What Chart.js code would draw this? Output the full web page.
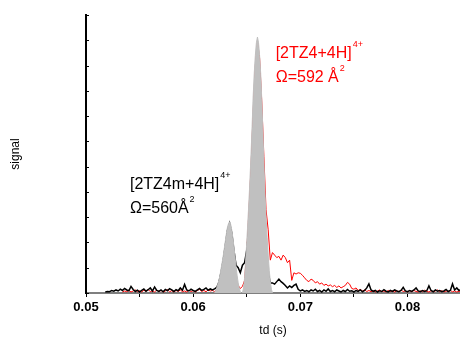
<!DOCTYPE html>
<html>
<head>
<meta charset="utf-8">
<script src="https://cdn.jsdelivr.net/npm/chart.js@4/dist/chart.umd.min.js"></script>
<style>
  html, body { margin: 0; padding: 0; background: #fff; }
  #wrap { width: 460px; height: 338px; position: relative; }
</style>
</head>
<body>
<div id="wrap"><canvas id="c"></canvas></div>
<script>
// Drift-time traces, sampled every 0.2 ms
const tdStep = 0.0002;
const blackStart = 0.0518;
const redStart = 0.0534;

// [2TZ4m+4H]4+ trace (black)
const blackSignal = [
  0.004, 0.006, 0.005, 0.010, 0.007, 0.012, 0.008, 0.015, 0.010, 0.018,
  0.012, 0.009, 0.026, 0.014, 0.006, 0.011, 0.004, 0.010, 0.016, 0.007,
  0.013, 0.020, 0.008, 0.024, 0.010, 0.006, 0.012, 0.005, 0.014, 0.009,
  0.017, 0.012, 0.006, 0.013, 0.009, 0.020, 0.011, 0.034, 0.012, 0.008,
  0.015, 0.010, 0.006, 0.012, 0.018, 0.010, 0.014, 0.020, 0.011, 0.016,
  0.012, 0.016, 0.022, 0.042, 0.080, 0.128, 0.188, 0.248, 0.276, 0.238,
  0.170, 0.110, 0.100, 0.080, 0.110, 0.120, 0.170, 0.250, 0.320, 0.360,
  0.380, 0.380, 0.350, 0.300, 0.220, 0.140, 0.080, 0.040, 0.040, 0.035,
  0.045, 0.055, 0.045, 0.038, 0.030, 0.020, 0.028, 0.022, 0.030, 0.035,
  0.015, 0.008, 0.012, 0.006, 0.010, 0.005, 0.012, 0.008, 0.015, 0.006,
  0.010, 0.004, 0.012, 0.007, 0.016, 0.006, 0.010, 0.005, 0.012, 0.008,
  0.004, 0.010, 0.006, 0.014, 0.007, 0.009, 0.004, 0.010, 0.006, 0.012,
  0.005, 0.010, 0.020, 0.036, 0.012, 0.006, 0.010, 0.004, 0.009, 0.006,
  0.013, 0.007, 0.004, 0.010, 0.006, 0.012, 0.008, 0.005, 0.010, 0.022,
  0.008, 0.005, 0.010, 0.006, 0.012, 0.020, 0.008, 0.005, 0.010, 0.006,
  0.009, 0.028, 0.010, 0.005, 0.012, 0.007, 0.010, 0.005, 0.008, 0.014,
  0.006, 0.010, 0.036, 0.012, 0.020, 0.010, 0.014
];

// [2TZ4+4H]4+ trace (red)
const redSignal = [
  0.004, 0.008, 0.005, 0.010, 0.004, 0.008, 0.012, 0.005, 0.009, 0.004,
  0.011, 0.006, 0.014, 0.005, 0.009, 0.004, 0.012, 0.006, 0.010, 0.004,
  0.008, 0.013, 0.005, 0.009, 0.004, 0.010, 0.006, 0.012, 0.005, 0.008,
  0.004, 0.011, 0.006, 0.009, 0.004, 0.010, 0.014, 0.006, 0.010, 0.005,
  0.012, 0.008, 0.010, 0.006, 0.012, 0.008, 0.014, 0.010, 0.016, 0.012,
  0.015, 0.010, 0.018, 0.022, 0.030, 0.018, 0.026, 0.050, 0.165, 0.320,
  0.500, 0.720, 0.900, 0.995, 0.930, 0.760, 0.540, 0.330, 0.250, 0.130,
  0.160, 0.150, 0.140, 0.145, 0.130, 0.150, 0.140, 0.120, 0.130, 0.050,
  0.080, 0.075, 0.080, 0.078, 0.070, 0.060, 0.050, 0.045, 0.055, 0.050,
  0.040, 0.045, 0.035, 0.040, 0.030, 0.035, 0.028, 0.032, 0.025, 0.030,
  0.022, 0.028, 0.020, 0.025, 0.030, 0.042, 0.035, 0.018, 0.015, 0.020,
  0.010, 0.014, 0.008, 0.012, 0.006, 0.010, 0.005, 0.009, 0.004, 0.008,
  0.012, 0.005, 0.008, 0.004, 0.010, 0.006, 0.008, 0.004, 0.009, 0.005,
  0.012, 0.006, 0.008, 0.004, 0.009, 0.005, 0.010, 0.006, 0.004, 0.008,
  0.005, 0.011, 0.006, 0.004, 0.009, 0.005, 0.008, 0.012, 0.005, 0.009,
  0.004, 0.008, 0.006, 0.010, 0.005, 0.008, 0.004, 0.007, 0.005
];

// Fitted peak profiles (grey)
const peak1Td = [
  0.0620, 0.0621, 0.0622, 0.0623, 0.0624, 0.0625, 0.0626, 0.0627, 0.0628, 0.0629,
  0.0630, 0.0631, 0.0632, 0.0633, 0.0634, 0.0635, 0.0636, 0.0637, 0.0638, 0.0639,
  0.0640, 0.0641, 0.0642, 0.0643, 0.0644, 0.0645
];
const peak1Signal = [
  0.000, 0.010, 0.020, 0.035, 0.050, 0.070, 0.095, 0.120, 0.145, 0.175,
  0.205, 0.235, 0.260, 0.275, 0.282, 0.272, 0.250, 0.220, 0.185, 0.145,
  0.105, 0.070, 0.040, 0.020, 0.005, 0.000
];
const peak2Td = [
  0.0646, 0.0647, 0.0648, 0.0649, 0.0650, 0.0651, 0.0652, 0.0653, 0.0654, 0.0655,
  0.0656, 0.0657, 0.0658, 0.0659, 0.0660, 0.0661, 0.0662, 0.0663, 0.0664, 0.0665,
  0.0666, 0.0667, 0.0668, 0.0669, 0.0670, 0.0671, 0.0672, 0.0673, 0.0674
];
const peak2Signal = [
  0.000, 0.020, 0.060, 0.130, 0.200, 0.280, 0.360, 0.450, 0.550, 0.660,
  0.780, 0.870, 0.940, 0.990, 1.013, 0.990, 0.940, 0.870, 0.770, 0.650,
  0.520, 0.400, 0.300, 0.220, 0.150, 0.090, 0.045, 0.015, 0.000
];

// Axis ranges and tick labels
const tdMin = 0.05, tdMax = 0.0849, tdMinorStep = 0.005;
const signalMin = 0, signalMax = 1.1, signalStep = 0.1;
const xTitle = 'td (s)';
const yTitle = 'signal';

const toPoints = (start, ys) => ys.map((y, i) => ({ x: +(start + i * tdStep).toFixed(5), y }));
const pair = (xs, ys) => xs.map((x, i) => ({ x, y: ys[i] }));

const FONT = '"Liberation Sans", Arial, sans-serif';
Chart.defaults.font.family = FONT;
Chart.defaults.color = '#000';

// Ion labels with superscripts, anchored in data space
const ionLabels = [
  { td: 0.0541, signal: 0.41, color: '#000', lines: [['[2TZ4m+4H]', '4+'], ['\u03A9=560\u00C5', '2']] },
  { td: 0.0677, signal: 0.93, color: '#ff0000', lines: [['[2TZ4+4H]', '4+'], ['\u03A9=592 \u00C5', '2']] }
];

const decorPlugin = {
  id: 'decor',
  afterDraw(chart) {
    const { ctx, scales: { x, y } } = chart;
    ctx.save();
    // inward minor ticks on the signal axis
    ctx.strokeStyle = '#000';
    ctx.lineWidth = 1;
    y.ticks.forEach(t => {
      const py = Math.round(y.getPixelForValue(t.value)) + 0.5;
      ctx.beginPath();
      ctx.moveTo(x.left, py);
      ctx.lineTo(x.left + 3, py);
      ctx.stroke();
    });
    // labels
    ctx.textBaseline = 'alphabetic';
    ionLabels.forEach(lab => {
      const px = x.getPixelForValue(lab.td);
      let py = y.getPixelForValue(lab.signal);
      ctx.fillStyle = lab.color;
      lab.lines.forEach(([main, sup]) => {
        ctx.font = '16px ' + FONT;
        ctx.fillText(main, px, py);
        const w = ctx.measureText(main).width;
        ctx.font = '9px ' + FONT;
        ctx.fillText(sup, px + w + 1, py - 11);
        py += 24;
      });
    });
    ctx.restore();
  }
};

new Chart(document.getElementById('c'), {
  type: 'line',
  data: {
    datasets: [
      { data: pair(peak1Td, peak1Signal), borderColor: '#c0c0c0', backgroundColor: '#c0c0c0', borderWidth: 1, fill: 'origin', order: 0 },
      { data: pair(peak2Td, peak2Signal), borderColor: '#c0c0c0', backgroundColor: '#c0c0c0', borderWidth: 1, fill: 'origin', order: 0 },
      { data: toPoints(blackStart, blackSignal), borderColor: '#000', borderWidth: 1.5, fill: false, order: 1 },
      { data: toPoints(redStart, redSignal), borderColor: '#ff0000', borderWidth: 1, fill: false, order: 2 }
    ]
  },
  options: {
    responsive: true,
    maintainAspectRatio: false,
    animation: false,
    events: [],
    layout: { padding: { top: 15, right: 0, bottom: 0, left: 0 } },
    elements: { point: { radius: 0 }, line: { tension: 0 } },
    plugins: { legend: { display: false }, tooltip: { enabled: false } },
    scales: {
      x: {
        type: 'linear',
        min: tdMin,
        max: tdMax,
        afterFit(s) { s.height = 45; },
        border: { display: true, color: '#7f7f7f', width: 2 },
        grid: { display: true, drawOnChartArea: false, drawTicks: true, tickLength: 4, color: '#000', tickWidth: 1 },
        ticks: {
          stepSize: tdMinorStep,
          includeBounds: false,
          autoSkip: false,
          maxRotation: 0,
          padding: 3,
          color: '#000',
          font: { size: 13, weight: 'bold' },
          callback(v) {
            const c = v * 100;
            return Math.abs(c - Math.round(c)) < 1e-6 ? v.toFixed(2) : '';
          }
        },
        title: { display: true, text: xTitle, color: '#000', font: { size: 12 }, padding: { top: 0, bottom: 0 } }
      },
      y: {
        min: signalMin,
        max: signalMax,
        afterFit(s) { s.width = 86; },
        border: { display: true, color: '#000', width: 2 },
        grid: { display: false },
        ticks: { display: false, stepSize: signalStep },
        title: { display: true, text: yTitle, color: '#000', font: { size: 12 }, padding: { top: 8, bottom: 0 } }
      }
    }
  },
  plugins: [decorPlugin]
});
</script>
</body>
</html>
